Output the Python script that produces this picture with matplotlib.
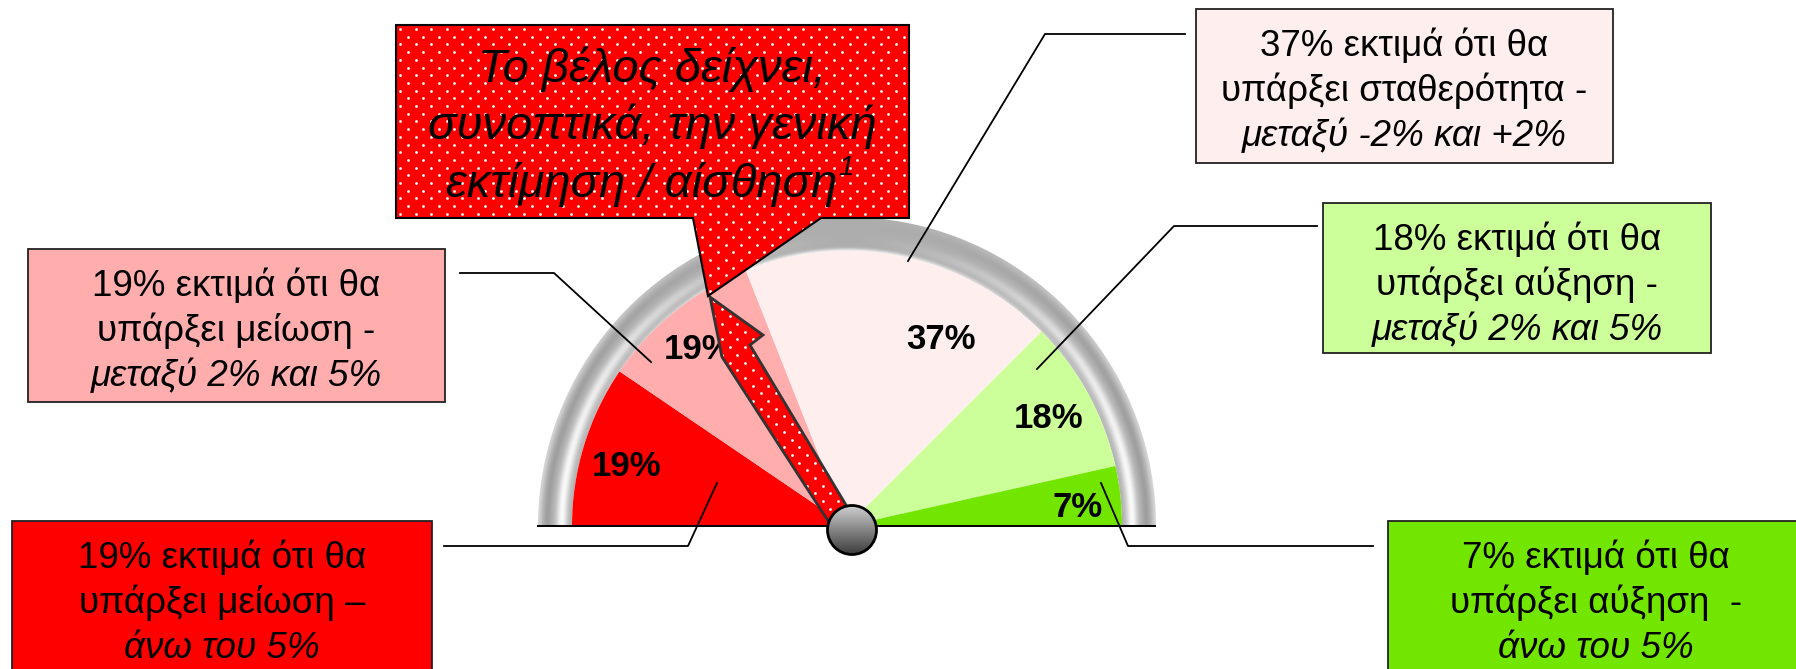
import numpy as np
import matplotlib.pyplot as plt
from matplotlib.patches import Rectangle, Polygon, Circle

plt.rcParams['font.family'] = ['Liberation Sans', 'DejaVu Sans']

# gauge data: share of answers per expectation band
shares = [19, 19, 37, 18, 7]
share_labels = ['19%', '19%', '37%', '18%', '7%']
share_colors = ['#FF0000', '#FFADAD', '#FFEEEE', '#CCFF99', '#73E600']

box_line1 = ['19% εκτιμά ότι θα', '19% εκτιμά ότι θα', '37% εκτιμά ότι θα',
             '18% εκτιμά ότι θα', '7% εκτιμά ότι θα']
box_line2 = ['υπάρξει μείωση –', 'υπάρξει μείωση -', 'υπάρξει σταθερότητα -',
             'υπάρξει αύξηση -', 'υπάρξει αύξηση  -']
box_line3 = ['άνω του 5%', 'μεταξύ 2% και 5%', 'μεταξύ -2% και +2%',
             'μεταξύ 2% και 5%', 'άνω του 5%']

callout_lines = ['Το βέλος δείχνει,', 'συνοπτικά, την γενική', 'εκτίμηση / αίσθηση']
footnote_mark = '1'

# layout (pixels, origin top-left)
W, H = 1796, 669
cx, cy = 847, 526
R_in, R_out = 275, 309
boxes = [(12, 521, 420, 160), (28, 249, 417, 153), (1196, 9, 417, 154),
         (1323, 203, 388, 150), (1388, 521, 416, 160)]
leaders = [[(444, 546), (688, 546), (717, 483)],
           [(460, 273), (554, 273), (651, 362)],
           [(1185, 34), (1045, 34), (908, 261)],
           [(1317, 226), (1174, 226), (1037, 369)],
           [(1373, 546), (1128, 546), (1101, 483)]]
label_turn = [2, 1.3, -15, -0.8, -1.6]
label_rad = [0.83, 0.84, 0.76, 0.83, 0.84]


def P(x, y):
    return (x, H - y)


def dotted(ax, poly, z):
    # red fill with a staggered grid of small white dots, clipped to the shape
    patch = Polygon(poly, closed=True, facecolor='#FF0000', lw=0, zorder=z)
    ax.add_patch(patch)
    pts = np.array(poly)
    x0, x1 = pts[:, 0].min(), pts[:, 0].max()
    y0, y1 = pts[:, 1].min(), pts[:, 1].max()
    gx, gy = [], []
    for i, yy in enumerate(np.arange(y1 - 4, y0, -7.7)):
        off = 7.75 * (i % 2)
        for xx in np.arange(x0 + 4 + off, x1, 15.5):
            gx.append(xx)
            gy.append(yy)
    sc = ax.scatter(gx, gy, s=4, color='white', linewidths=0, zorder=z + 0.1)
    sc.set_clip_path(patch)


fig = plt.figure(figsize=(W / 100, H / 100), dpi=100)
ax = fig.add_axes([0, 0, 1, 1])

# grey bezel ring
xs = np.arange(cx - R_out - 2, cx + R_out + 3) + 0.5
ys = np.arange(cy - R_out - 2, cy) + 0.5
X, Y = np.meshgrid(xs, ys)
r = np.hypot(X - cx, cy - Y)
th = np.arctan2(cy - Y, X - cx)
t = (r - R_in) / (R_out - R_in)
side = np.abs(np.cos(th)) ** 1.5
g = (0.68 + side * (0.3 * np.exp(-((t - 0.3) / 0.17) ** 2)
                    - 0.06 * np.exp(-((t - 0.72) / 0.1) ** 2)
                    + 0.16 * np.exp(-((t - 1) / 0.12) ** 2))
     + (1 - side) * 0.25 * np.exp(-(t / 0.08) ** 2))
g = np.clip(g, 0, 1)
alpha = np.clip(r - R_in + 0.5, 0, 1) * np.clip(R_out - r + 0.5, 0, 1)
ax.imshow(np.dstack([g, g, g, alpha]),
          extent=(xs[0] - 0.5, xs[-1] + 0.5, H - (ys[-1] + 0.5), H - (ys[0] - 0.5)),
          origin='upper', interpolation='nearest', zorder=1)

# half pie: hidden slice equal to the total takes the lower half
ax.pie(shares + [sum(shares)], radius=R_in, center=P(cx, cy), startangle=180,
       counterclock=False, colors=share_colors + ['none'],
       wedgeprops=dict(linewidth=0, zorder=2), frame=True)

ax.plot([538, 1155], [H - cy, H - cy], color='black', lw=1.4, zorder=3)

cum = np.cumsum([0] + shares[:-1])
mid = 180 - 180 * (cum + np.array(shares) / 2) / sum(shares)
for lab, m, dt, f in zip(share_labels, mid, label_turn, label_rad):
    a = np.radians(m + dt)
    ax.text(cx + R_in * f * np.cos(a), H - cy + R_in * f * np.sin(a), lab,
            ha='center', va='center', fontsize=25, fontweight='bold',
            family=['Liberation Sans Narrow', 'Liberation Sans'], zorder=4)

# leader lines and boxes
for pts in leaders:
    ax.plot([p[0] for p in pts], [H - p[1] for p in pts], color='black', lw=1.3, zorder=5)

for (bx, by, bw, bh), col, l1, l2, l3 in zip(boxes, share_colors, box_line1, box_line2, box_line3):
    ax.add_patch(Rectangle((bx, H - by - bh), bw, bh, facecolor=col,
                           edgecolor='#222222', lw=1.3, zorder=5))
    xm = bx + bw / 2
    ax.text(xm, H - by - 47, l1, ha='center', va='baseline', fontsize=26.5, zorder=6)
    ax.text(xm, H - by - 92, l2, ha='center', va='baseline', fontsize=26.5, zorder=6)
    ax.text(xm, H - by - 137, l3, ha='center', va='baseline', fontsize=26.5,
            style='italic', zorder=6)

# needle arrow
needle = [P(710, 297), P(763, 335), P(750, 345), P(858, 525), P(832, 527), P(722, 357)]
dotted(ax, needle, 7)
ax.add_patch(Polygon(needle, closed=True, fill=False, edgecolor='#333333', lw=2, zorder=7.5))

# knob
knob = Circle(P(852, 530), 24.5, facecolor='none', edgecolor='black', lw=2, zorder=9)
grad = np.linspace(0.82, 0.22, 60).reshape(-1, 1)
im = ax.imshow(grad, cmap='gray', vmin=0, vmax=1, origin='upper',
               extent=(826, 878, H - 556, H - 504), zorder=8, interpolation='bilinear')
ax.add_patch(knob)
im.set_clip_path(knob)

# callout
callout = [P(396, 25), P(909, 25), P(909, 218), P(821, 218), P(708, 296),
           P(693, 218), P(396, 218)]
dotted(ax, callout, 10)
ax.add_patch(Polygon(callout, closed=True, fill=False, edgecolor='black', lw=1.5, zorder=10.5))

ax.set_xlim(0, W)
ax.set_ylim(0, H)
ax.set_aspect('auto')
ax.axis('off')

for i, (line, base) in enumerate(zip(callout_lines, [82, 139, 197])):
    xm = 652 if i < 2 else 642
    txt = ax.text(xm, H - base, line, ha='center', va='baseline', fontsize=34,
                  style='italic', zorder=11)
renderer = fig.canvas.get_renderer()
bb = txt.get_window_extent(renderer)
ax.text(bb.x1 + 1, H - 197 + 22, footnote_mark, ha='left', va='baseline',
        fontsize=20, style='italic', zorder=11)

fig.savefig('out.png', dpi=100)
